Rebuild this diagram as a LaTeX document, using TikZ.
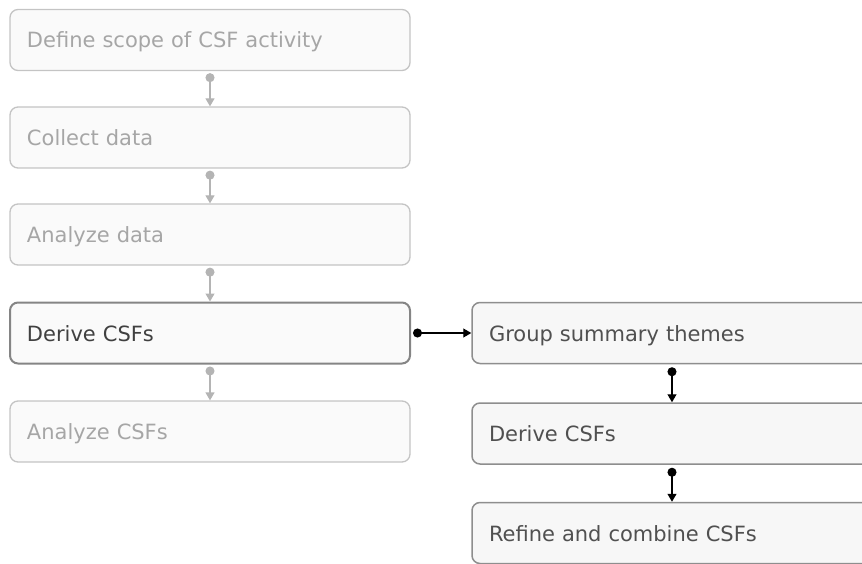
\documentclass[tikz,border=0pt]{standalone}
\usepackage{fontspec}
\setmainfont{DejaVu Sans}
\usetikzlibrary{arrows.meta}
\definecolor{fadeborder}{HTML}{C4C4C4}
\definecolor{fadefill}{HTML}{FAFAFA}
\definecolor{fadetext}{HTML}{A6A6A6}
\definecolor{fadeline}{HTML}{B4B4B4}
\definecolor{activeborder}{HTML}{858585}
\definecolor{activetext}{HTML}{404040}
\definecolor{rightborder}{HTML}{8E8E8E}
\definecolor{rightfill}{HTML}{F7F7F7}
\definecolor{righttext}{HTML}{505050}
\tikzset{
  box/.style={rectangle, rounded corners=8pt, minimum height=61pt,
    text width=366pt, inner xsep=17pt, inner ysep=0pt, align=left,
    text height=16pt, text depth=0pt,
    font=\fontsize{21}{24}\selectfont, anchor=center},
  fadebox/.style={box, draw=fadeborder, fill=fadefill, text=fadetext, line width=1.3pt},
  activebox/.style={box, draw=activeborder, fill=fadefill, text=activetext, line width=2pt},
  rightbox/.style={box, draw=rightborder, fill=rightfill, text=righttext, line width=1.5pt},
  fadeconn/.style={draw=fadeline, fill=fadeline, line width=1.3pt,
    {Circle[length=9pt]}-{Triangle[length=8pt,width=9pt]}},
  darkconn/.style={draw=black, fill=black, line width=1.2pt,
    {Circle[length=9pt]}-{Triangle[length=8pt,width=9pt]}}
}
\begin{document}
\begin{tikzpicture}[x=1pt,y=-1pt]
\useasboundingbox (0,0) rectangle (862,564);
\clip (0,0) rectangle (862,564);
\node[fadebox] (l1) at (210,40) {Define scope of CSF activity};
\node[fadebox] (l2) at (210,137.5) {Collect data};
\node[fadebox] (l3) at (210,234.5) {Analyze data};
\node[activebox] (l4) at (210,333) {Derive CSFs};
\node[fadebox] (l5) at (210,431.5) {Analyze CSFs};
\node[rightbox] (r1) at (672,333) {Group summary themes};
\node[rightbox] (r2) at (672,433.5) {Derive CSFs};
\node[rightbox] (r3) at (672,533) {Refine and combine CSFs};
\draw[fadeconn] ([yshift=-2pt]l1.south) -- (l2.north);
\draw[fadeconn] ([yshift=-2pt]l2.south) -- (l3.north);
\draw[fadeconn] ([yshift=-2pt]l3.south) -- (l4.north);
\draw[fadeconn] ([yshift=-2pt]l4.south) -- (l5.north);
\draw[darkconn] ([xshift=2pt]l4.east) -- (r1.west);
\draw[darkconn] ([yshift=-3pt]r1.south) -- (r2.north);
\draw[darkconn] ([yshift=-3pt]r2.south) -- (r3.north);
\end{tikzpicture}
\end{document}
